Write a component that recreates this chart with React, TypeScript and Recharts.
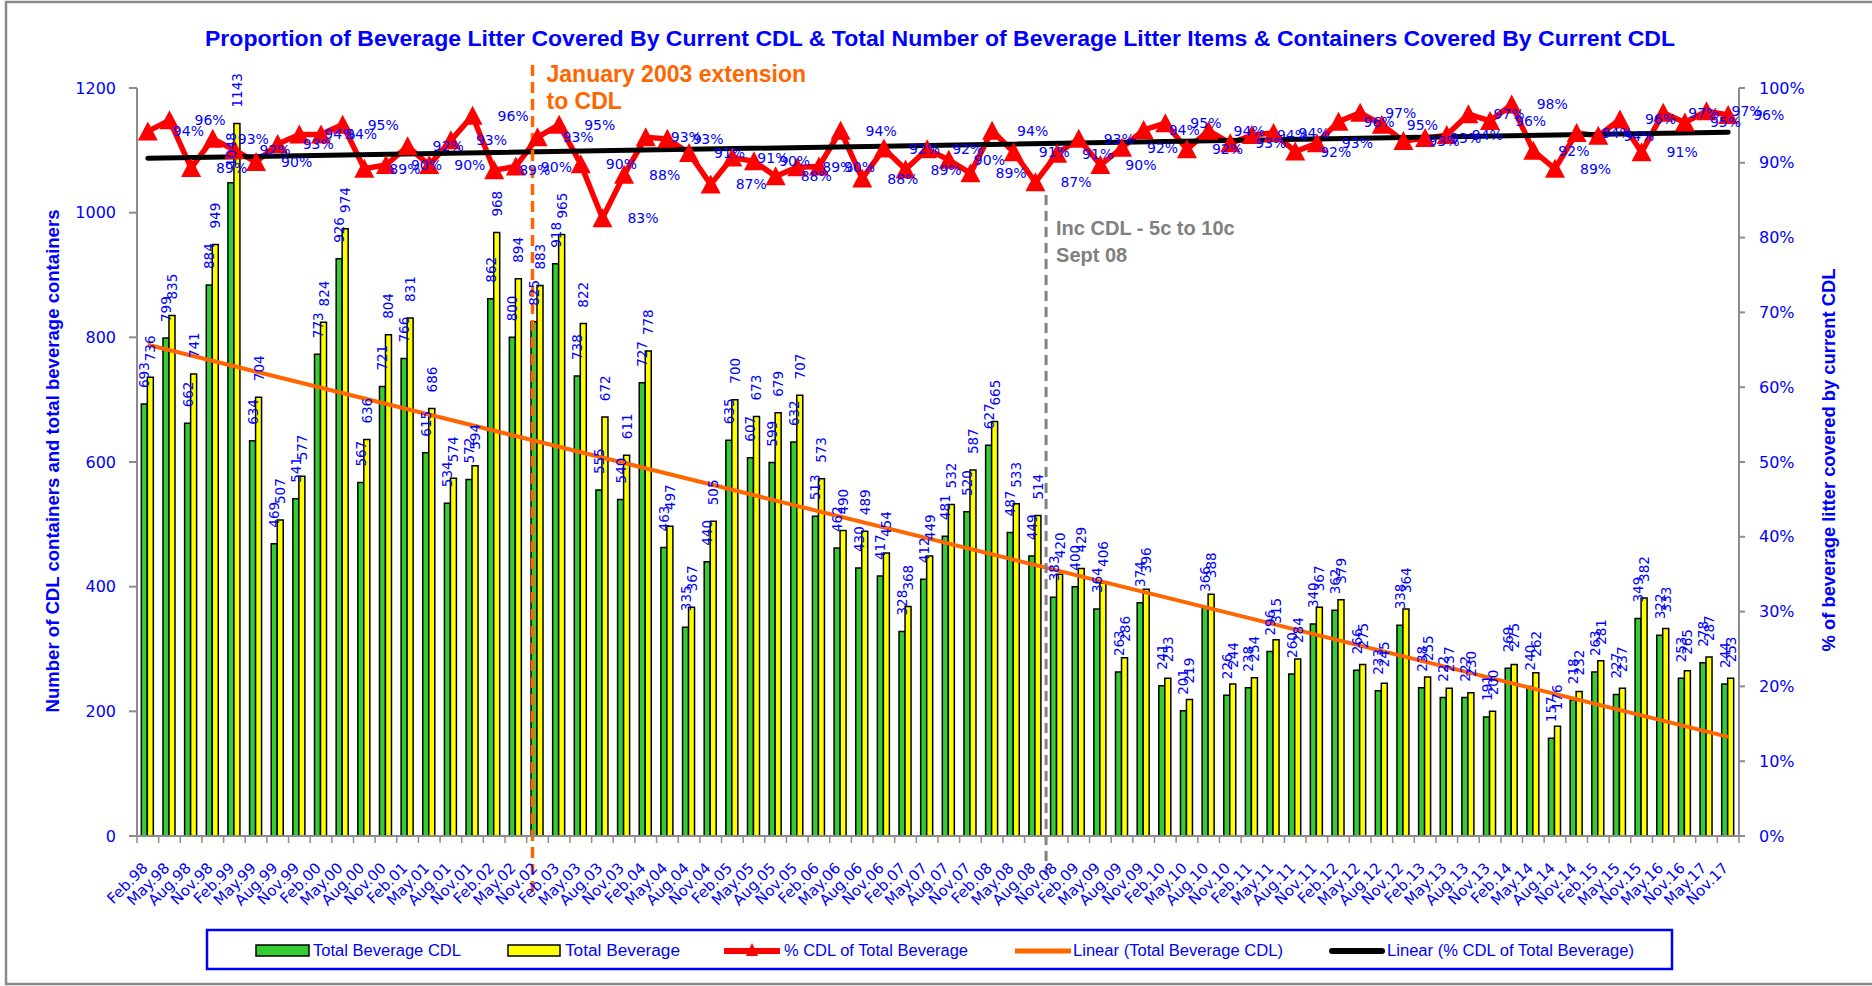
import React from "react";
import {
  Bar,
  ComposedChart,
  LabelList,
  Line,
  ReferenceLine,
  XAxis,
  YAxis,
} from "recharts";

const months = [
  "Feb.98", "May.98", "Aug.98", "Nov.98", "Feb.99", "May.99", "Aug.99", "Nov.99",
  "Feb.00", "May.00", "Aug.00", "Nov.00", "Feb.01", "May.01", "Aug.01", "Nov.01",
  "Feb.02", "May.02", "Nov.02", "Feb.03", "May.03", "Aug.03", "Nov.03",
  "Feb.04", "May.04", "Aug.04", "Nov.04", "Feb.05", "May.05", "Aug.05", "Nov.05",
  "Feb.06", "May.06", "Aug.06", "Nov.06", "Feb.07", "May.07", "Aug.07", "Nov.07",
  "Feb.08", "May.08", "Aug.08", "Nov.08", "Feb.09", "May.09", "Aug.09", "Nov.09",
  "Feb.10", "May.10", "Aug.10", "Nov.10", "Feb.11", "May.11", "Aug.11", "Nov.11",
  "Feb.12", "May.12", "Aug.12", "Nov.12", "Feb.13", "May.13", "Aug.13", "Nov.13",
  "Feb.14", "May.14", "Aug.14", "Nov.14", "Feb.15", "May.15", "Nov.15",
  "May.16", "Nov.16", "May.17", "Nov.17",
];

const totalCdl = [
  693, 799, 662, 884, 1048, 634, 469, 541, 773, 926, 567, 721, 766, 615, 534, 572,
  862, 800, 825, 918, 738, 555, 540, 727, 463, 335, 440, 635, 607, 599, 632,
  513, 462, 430, 417, 328, 412, 481, 520, 627, 487, 449, 383, 400, 364, 263, 374,
  241, 201, 366, 226, 238, 296, 260, 340, 362, 266, 233, 338, 238, 222, 222, 191,
  269, 240, 157, 218, 263, 227, 349, 322, 253, 278, 244,
];

const totalBeverage = [
  736, 835, 741, 949, 1143, 704, 507, 577, 824, 974, 636, 804, 831, 686, 574, 594,
  968, 894, 883, 965, 822, 672, 611, 778, 497, 367, 505, 700, 673, 679, 707,
  573, 490, 489, 454, 368, 449, 532, 587, 665, 533, 514, 420, 429, 406, 286, 396,
  253, 219, 388, 244, 254, 315, 284, 367, 379, 275, 245, 364, 255, 237, 230, 200,
  275, 262, 176, 232, 281, 237, 382, 333, 265, 287, 253,
];

const pctCdl = [
  94.2, 95.7, 89.3, 93.2, 91.7, 90.1, 92.5, 93.8, 93.8, 95.1, 89.2, 89.7, 92.2, 89.7, 93.0, 96.3,
  89.0, 89.5, 93.4, 95.1, 89.8, 82.6, 88.4, 93.4, 93.2, 91.3, 87.1, 90.7, 90.2, 88.2, 89.4,
  89.5, 94.3, 87.9, 91.9, 89.1, 91.8, 90.4, 88.6, 94.3, 91.4, 87.4, 91.2, 93.2, 89.7, 92.0, 94.4,
  95.3, 91.8, 94.3, 92.6, 93.7, 94.0, 91.5, 92.6, 95.5, 96.7, 95.1, 92.9, 93.3, 93.7, 96.5, 95.6,
  97.8, 91.6, 89.2, 94.0, 93.6, 95.8, 91.4, 96.7, 95.4, 96.9, 96.4,
];

// linear trend end points
const cdlTrendEnds = [788, 159];
const pctTrendEnds = [90.6, 94.1];

const countTicks = [0, 200, 400, 600, 800, 1000, 1200];
const pctTicks = [0, 10, 20, 30, 40, 50, 60, 70, 80, 90, 100];

const BLUE = "#0000FF";
const GREEN = "#33CC33";
const YELLOW = "#FFFF00";
const RED = "#FF0000";
const ORANGE = "#FF6600";
const AXIS_GREY = "#8C8C8C";
const LABEL_FONT = "'DejaVu Sans', Verdana, sans-serif";
const TITLE_FONT = "'Liberation Sans', Arial, sans-serif";

const last = months.length - 1;
const data = months.map((month, i) => ({
  month,
  cdl: totalCdl[i],
  total: totalBeverage[i],
  pct: pctCdl[i],
  cdlTrend: i === 0 ? cdlTrendEnds[0] : i === last ? cdlTrendEnds[1] : null,
  pctTrend: i === 0 ? pctTrendEnds[0] : i === last ? pctTrendEnds[1] : null,
}));

// category label, plus Excel-style tick marks on the category boundaries
const MonthTick = (props: any) => {
  const { x, y, payload, index, width, visibleTicksCount } = props;
  const half = width / visibleTicksCount / 2;
  const tx = x + 1;
  const ty = y + 33;
  return (
    <g>
      <line x1={x - half} y1={y} x2={x - half} y2={y + 7} stroke={AXIS_GREY} strokeWidth={1.5} />
      {index === visibleTicksCount - 1 && (
        <line x1={x + half} y1={y} x2={x + half} y2={y + 7} stroke={AXIS_GREY} strokeWidth={1.5} />
      )}
      <text
        x={tx}
        y={ty}
        transform={`rotate(-45 ${tx} ${ty})`}
        textAnchor="end"
        fill={BLUE}
        fontSize={15}
        fontFamily={LABEL_FONT}
      >
        {payload.value}
      </text>
    </g>
  );
};

const BarValueLabel = (props: any) => {
  const { x, y, width, value } = props;
  const tx = x + width / 2 + 5;
  const ty = y - 16;
  return (
    <text
      x={tx}
      y={ty}
      transform={`rotate(-90 ${tx} ${ty})`}
      fill={BLUE}
      fontSize={13.5}
      fontFamily={LABEL_FONT}
    >
      {value}
    </text>
  );
};

const PctLabel = (props: any) => {
  const { x, y, value } = props;
  return (
    <text
      x={x + 25}
      y={y}
      dominantBaseline="central"
      fill={BLUE}
      fontSize={14}
      fontFamily={LABEL_FONT}
    >
      {Math.round(value)}%
    </text>
  );
};

const TriangleDot = (props: any) => {
  const { cx, cy, index } = props;
  if (cx == null || cy == null) return null;
  return (
    <path
      key={`tri-${index}`}
      d={`M${cx},${cy - 10} L${cx + 10},${cy + 9} L${cx - 10},${cy + 9} Z`}
      fill={RED}
    />
  );
};

const ExtensionMarker = (props: any) => {
  const { x1, y1, y2 } = props;
  const x = x1 - 5;
  const top = Math.min(y1, y2) - 23;
  const bottom = Math.max(y1, y2) + 60;
  return (
    <g>
      <line x1={x} y1={top} x2={x} y2={bottom} stroke={ORANGE} strokeWidth={3.5} strokeDasharray="11 6" />
      <text x={x + 14} y={top + 17} fill={ORANGE} fontSize={23} fontWeight="bold" fontFamily={TITLE_FONT}>
        January 2003 extension
      </text>
      <text x={x + 14} y={top + 44} fill={ORANGE} fontSize={23} fontWeight="bold" fontFamily={TITLE_FONT}>
        to CDL
      </text>
    </g>
  );
};

const DepositMarker = (props: any) => {
  const { x1, y1, y2 } = props;
  const x = x1 - 11;
  const top = Math.min(y1, y2) + 107;
  const bottom = Math.max(y1, y2) + 39;
  return (
    <g>
      <line x1={x} y1={top} x2={x} y2={bottom} stroke="#808080" strokeWidth={3} strokeDasharray="10 6" />
      <text x={x + 10} y={top + 40} fill="#808080" fontSize={20} fontWeight="bold" fontFamily={TITLE_FONT}>
        Inc CDL - 5c to 10c
      </text>
      <text x={x + 10} y={top + 67} fill="#808080" fontSize={20} fontWeight="bold" fontFamily={TITLE_FONT}>
        Sept 08
      </text>
    </g>
  );
};

const legendText = {
  fill: BLUE,
  fontSize: 16,
  fontFamily: TITLE_FONT,
};

const Overlay = () => (
  <svg
    width={1872}
    height={986}
    style={{ position: "absolute", left: 0, top: 0, pointerEvents: "none" }}
  >
    <path d="M1872,2 L6,2 L6,984 L1872,984" fill="none" stroke="#898989" strokeWidth={2.5} />
    <text
      x={940}
      y={46}
      textAnchor="middle"
      fill={BLUE}
      fontSize={22}
      fontWeight="bold"
      fontFamily={TITLE_FONT}
      textLength={1470}
      lengthAdjust="spacingAndGlyphs"
    >
      Proportion of Beverage Litter Covered By Current CDL &amp; Total Number of Beverage Litter Items &amp; Containers Covered By Current CDL
    </text>
    <text
      x={53}
      y={461}
      transform="rotate(-90 53 461)"
      textAnchor="middle"
      dominantBaseline="central"
      fill={BLUE}
      fontSize={18}
      fontWeight="bold"
      fontFamily={TITLE_FONT}
      textLength={503}
      lengthAdjust="spacingAndGlyphs"
    >
      Number of CDL containers and total beverage containers
    </text>
    <text
      x={1829}
      y={460}
      transform="rotate(-90 1829 460)"
      textAnchor="middle"
      dominantBaseline="central"
      fill={BLUE}
      fontSize={18}
      fontWeight="bold"
      fontFamily={TITLE_FONT}
      textLength={383}
      lengthAdjust="spacingAndGlyphs"
    >
      % of beverage litter covered by current CDL
    </text>

    <rect x={207} y={930} width={1465} height={39} fill="#fff" stroke={BLUE} strokeWidth={2.5} />
    <rect x={256} y={945} width={53} height={11} fill={GREEN} stroke="#000" strokeWidth={1.5} />
    <text x={313} y={956} {...legendText} textLength={148} lengthAdjust="spacingAndGlyphs">Total Beverage CDL</text>
    <rect x={508} y={945} width={52} height={11} fill={YELLOW} stroke="#000" strokeWidth={1.5} />
    <text x={565} y={956} {...legendText} textLength={115} lengthAdjust="spacingAndGlyphs">Total Beverage</text>
    <line x1={724} y1={951} x2={780} y2={951} stroke={RED} strokeWidth={6} />
    <path d="M752,943 L758,956 L746,956 Z" fill={RED} />
    <text x={784} y={956} {...legendText} textLength={184} lengthAdjust="spacingAndGlyphs">% CDL of Total Beverage</text>
    <line x1={1015} y1={951} x2={1071} y2={951} stroke={ORANGE} strokeWidth={5} />
    <text x={1073} y={956} {...legendText} textLength={210} lengthAdjust="spacingAndGlyphs">Linear (Total Beverage CDL)</text>
    <line x1={1332} y1={951} x2={1382} y2={951} stroke="#000" strokeWidth={6} strokeLinecap="round" />
    <text x={1387} y={956} {...legendText} textLength={247} lengthAdjust="spacingAndGlyphs">Linear (% CDL of Total Beverage)</text>
  </svg>
);

export default function App() {
  return (
    <div
      style={{
        position: "absolute",
        left: 0,
        top: 0,
        width: 1872,
        height: 986,
        overflow: "hidden",
        background: "#fff",
      }}
    >
      <ComposedChart
        width={1872}
        height={986}
        data={data}
        margin={{ top: 88, right: 63, bottom: 90, left: 67 }}
        barCategoryGap="20%"
        barGap={0}
      >
        <XAxis
          xAxisId="m"
          dataKey="month"
          interval={0}
          height={60}
          tickSize={0}
          tickMargin={0}
          tickLine={false}
          axisLine={{ stroke: AXIS_GREY, strokeWidth: 2 }}
          tick={<MonthTick />}
        />
        <YAxis
          yAxisId="left"
          width={70}
          domain={[0, 1200]}
          ticks={countTicks}
          interval={0}
          tickSize={8}
          tickMargin={13}
          axisLine={{ stroke: AXIS_GREY, strokeWidth: 2 }}
          tickLine={{ stroke: AXIS_GREY, strokeWidth: 2 }}
          tick={{ fill: BLUE, fontSize: 16, fontFamily: LABEL_FONT }}
        />
        <YAxis
          yAxisId="right"
          orientation="right"
          width={70}
          domain={[0, 100]}
          ticks={pctTicks}
          interval={0}
          tickSize={6}
          tickMargin={14}
          tickFormatter={(v: number) => `${v}%`}
          axisLine={{ stroke: AXIS_GREY, strokeWidth: 2 }}
          tickLine={{ stroke: AXIS_GREY, strokeWidth: 2 }}
          tick={{ fill: BLUE, fontSize: 16, fontFamily: LABEL_FONT }}
        />
        <Bar
          xAxisId="m"
          yAxisId="left"
          dataKey="cdl"
          fill={GREEN}
          stroke="#000"
          strokeWidth={1.5}
          isAnimationActive={false}
        >
          <LabelList dataKey="cdl" content={BarValueLabel} />
        </Bar>
        <Bar
          xAxisId="m"
          yAxisId="left"
          dataKey="total"
          fill={YELLOW}
          stroke="#000"
          strokeWidth={1.5}
          isAnimationActive={false}
        >
          <LabelList dataKey="total" content={BarValueLabel} />
        </Bar>
        <Line
          xAxisId="m"
          yAxisId="left"
          dataKey="cdlTrend"
          stroke={ORANGE}
          strokeWidth={4}
          dot={false}
          activeDot={false}
          connectNulls
          isAnimationActive={false}
        />
        <Line
          xAxisId="m"
          yAxisId="right"
          dataKey="pct"
          stroke={RED}
          strokeWidth={5.5}
          dot={TriangleDot}
          activeDot={false}
          isAnimationActive={false}
        >
          <LabelList dataKey="pct" content={PctLabel} />
        </Line>
        <Line
          xAxisId="m"
          yAxisId="right"
          dataKey="pctTrend"
          stroke="#000"
          strokeWidth={5}
          strokeLinecap="round"
          dot={false}
          activeDot={false}
          connectNulls
          isAnimationActive={false}
        />
        <ReferenceLine xAxisId="m" yAxisId="left" x="Nov.02" shape={ExtensionMarker} ifOverflow="visible" />
        <ReferenceLine xAxisId="m" yAxisId="left" x="Nov.08" shape={DepositMarker} ifOverflow="visible" />
      </ComposedChart>
      <Overlay />
    </div>
  );
}
